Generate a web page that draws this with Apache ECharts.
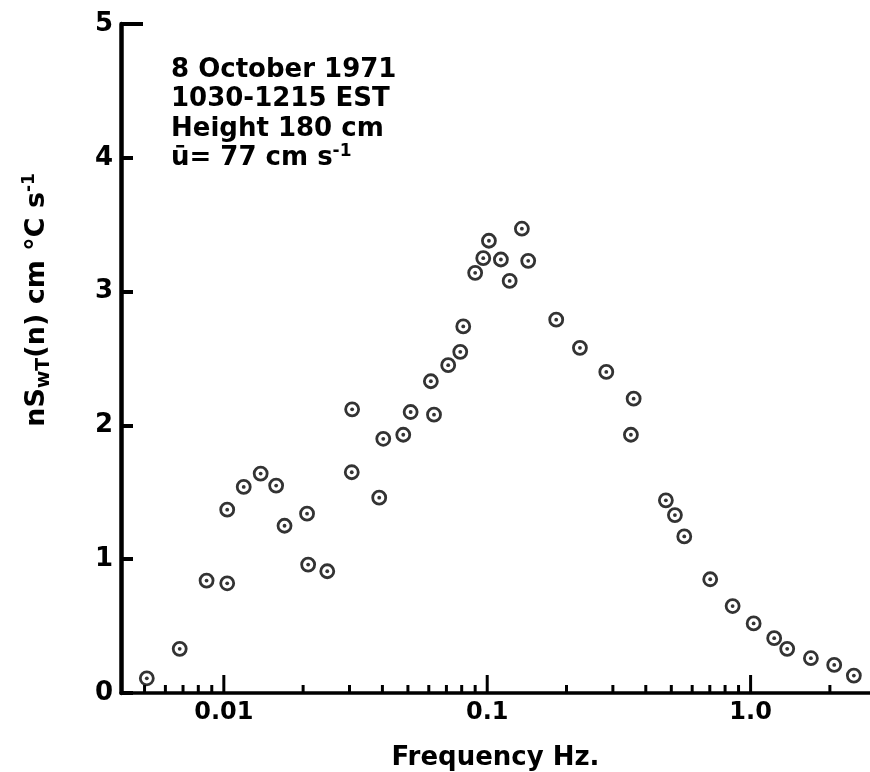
<!DOCTYPE html>
<html><head><meta charset="utf-8">
<script src="https://cdn.jsdelivr.net/npm/echarts@6/dist/echarts.min.js"></script>
<style>html,body{margin:0;padding:0;background:#fff}#c{width:870px;height:772px}</style>
</head><body><div id="c"></div>
<script>
// ---- data ----
const frequency = [0.0051, 0.0068, 0.0086, 0.0103, 0.0103, 0.0119, 0.0138, 0.0158, 0.0170, 0.0207,
  0.0209, 0.0247, 0.0307, 0.0306, 0.0389, 0.0403, 0.0480, 0.0512, 0.0611, 0.0628,
  0.0711, 0.0790, 0.0811, 0.0900, 0.0966, 0.1015, 0.1127, 0.1217, 0.1354, 0.1431,
  0.1828, 0.2249, 0.2832, 0.3597, 0.3512, 0.4768, 0.516, 0.560, 0.7025, 0.8546,
  1.027, 1.229, 1.377, 1.694, 2.077, 2.466];
const nSwT = [0.11, 0.33, 0.84, 0.82, 1.37, 1.54, 1.64, 1.55, 1.25, 1.34,
  0.96, 0.91, 2.12, 1.65, 1.46, 1.90, 1.93, 2.10, 2.33, 2.08,
  2.45, 2.55, 2.74, 3.14, 3.25, 3.38, 3.24, 3.08, 3.47, 3.23,
  2.79, 2.58, 2.40, 2.20, 1.93, 1.44, 1.33, 1.17, 0.85, 0.65,
  0.52, 0.41, 0.33, 0.26, 0.21, 0.13];
const xMajorTicks = [0.01, 0.1, 1.0];
const xMajorLabels = ['0.01', '0.1', '1.0'];
const xMinorTicks = [0.005, 0.006, 0.007, 0.008, 0.009,
  0.02, 0.03, 0.04, 0.05, 0.06, 0.07, 0.08, 0.09,
  0.2, 0.3, 0.4, 0.5, 0.6, 0.7, 0.8, 0.9, 2];
const yTicks = [0, 1, 2, 3, 4, 5];
const yTickLabels = ['0', '1', '2', '3', '4', '5'];
const xRange = [0.00407, 2.84];
const yRange = [0, 5];
const annotationLines = ['8 October 1971', '1030-1215 EST', 'Height 180 cm', 'ū= 77 cm s{sup|-1}'];
const xTitle = 'Frequency Hz.';
const yTitle = 'nS{sub|wT}(n) cm °C s{sup|-1}';

// ---- chart ----
const FONT = 'DejaVu Sans';
const chart = echarts.init(document.getElementById('c'), null, {renderer: 'canvas'});

function tickLine(len, horizontal, width) {
  return function (params, api) {
    const p = api.coord([api.value(0), api.value(1)]);
    return {
      type: 'line',
      shape: horizontal ? {x1: p[0], y1: p[1], x2: p[0] + len, y2: p[1]}
                        : {x1: p[0], y1: p[1], x2: p[0], y2: p[1] - len},
      style: {stroke: '#000', lineWidth: width}
    };
  };
}

const option = {
  animation: false,
  backgroundColor: '#fff',
  title: {
    text: annotationLines.join('\n'),
    left: 166, top: 50,
    textStyle: {
      fontFamily: FONT, fontSize: 26, fontWeight: 'bold', color: '#000', lineHeight: 29.5,
      rich: {
        sup: {fontFamily: FONT, fontSize: 17, fontWeight: 'bold', color: '#000', padding: [0, 0, 14, 0]}
      }
    }
  },
  grid: {left: 121, right: 0, top: 24, bottom: 79, containLabel: false, outerBoundsMode: 'none'},
  xAxis: {
    type: 'log', logBase: 10, min: xRange[0], max: xRange[1],
    name: xTitle, nameLocation: 'middle', nameGap: 52,
    nameTextStyle: {fontFamily: FONT, fontSize: 26, fontWeight: 'bold', color: '#000'},
    axisLine: {show: true, lineStyle: {color: '#000', width: 3.5}},
    axisTick: {show: false},
    minorTick: {show: false},
    splitLine: {show: false},
    axisLabel: {
      fontFamily: FONT, fontSize: 24, fontWeight: 'bold', color: '#000', margin: 8,
      showMinLabel: false, showMaxLabel: false,
      formatter: function (v) {
        for (let i = 0; i < xMajorTicks.length; i++) {
          if (Math.abs(Math.log10(v / xMajorTicks[i])) < 1e-6) return xMajorLabels[i];
        }
        return '';
      }
    }
  },
  yAxis: {
    type: 'value', min: yRange[0], max: yRange[1], interval: 1,
    name: yTitle, nameLocation: 'middle', nameRotate: 90, nameGap: 67,
    nameTextStyle: {
      fontFamily: FONT, fontSize: 27, fontWeight: 'bold', color: '#000',
      padding: [0, 0, 0, 117],
      rich: {
        sub: {fontFamily: FONT, fontSize: 19, fontWeight: 'bold', color: '#000', padding: [16, 0, 0, 0]},
        sup: {fontFamily: FONT, fontSize: 17, fontWeight: 'bold', color: '#000', padding: [0, 0, 14, 0]}
      }
    },
    axisLine: {show: true, lineStyle: {color: '#000', width: 4.5}},
    axisTick: {show: true, inside: true, length: 12, lineStyle: {color: '#000', width: 4}},
    splitLine: {show: false},
    axisLabel: {
      fontFamily: FONT, fontSize: 26, fontWeight: 'bold', color: '#000', margin: 8,
      formatter: function (v) {
        const i = yTicks.indexOf(v);
        return i >= 0 ? yTickLabels[i] : '';
      }
    }
  },
  series: [
    {
      type: 'custom', coordinateSystem: 'cartesian2d', silent: true,
      encode: {x: 0, y: 1},
      data: xMajorTicks.map(v => [v, yRange[0]]),
      renderItem: tickLine(18, false, 3)
    },
    {
      type: 'custom', coordinateSystem: 'cartesian2d', silent: true,
      encode: {x: 0, y: 1},
      data: xMinorTicks.map(v => [v, yRange[0]]),
      renderItem: tickLine(8, false, 3)
    },
    {
      type: 'custom', coordinateSystem: 'cartesian2d', silent: true,
      encode: {x: 0, y: 1},
      data: [[xRange[0], yRange[1]]],
      renderItem: tickLine(22, true, 4)
    },
    {
      type: 'scatter', silent: true, symbol: 'circle', symbolSize: 13,
      itemStyle: {color: 'rgba(255,255,255,0)', borderColor: '#000', borderWidth: 2.8},
      data: frequency.map((f, i) => [f, nSwT[i]]), z: 3
    },
    {
      type: 'scatter', silent: true, symbol: 'circle', symbolSize: 3.8,
      itemStyle: {color: '#000'},
      data: frequency.map((f, i) => [f, nSwT[i]]), z: 4
    }
  ]
};
chart.setOption(option);
</script>
</body></html>
